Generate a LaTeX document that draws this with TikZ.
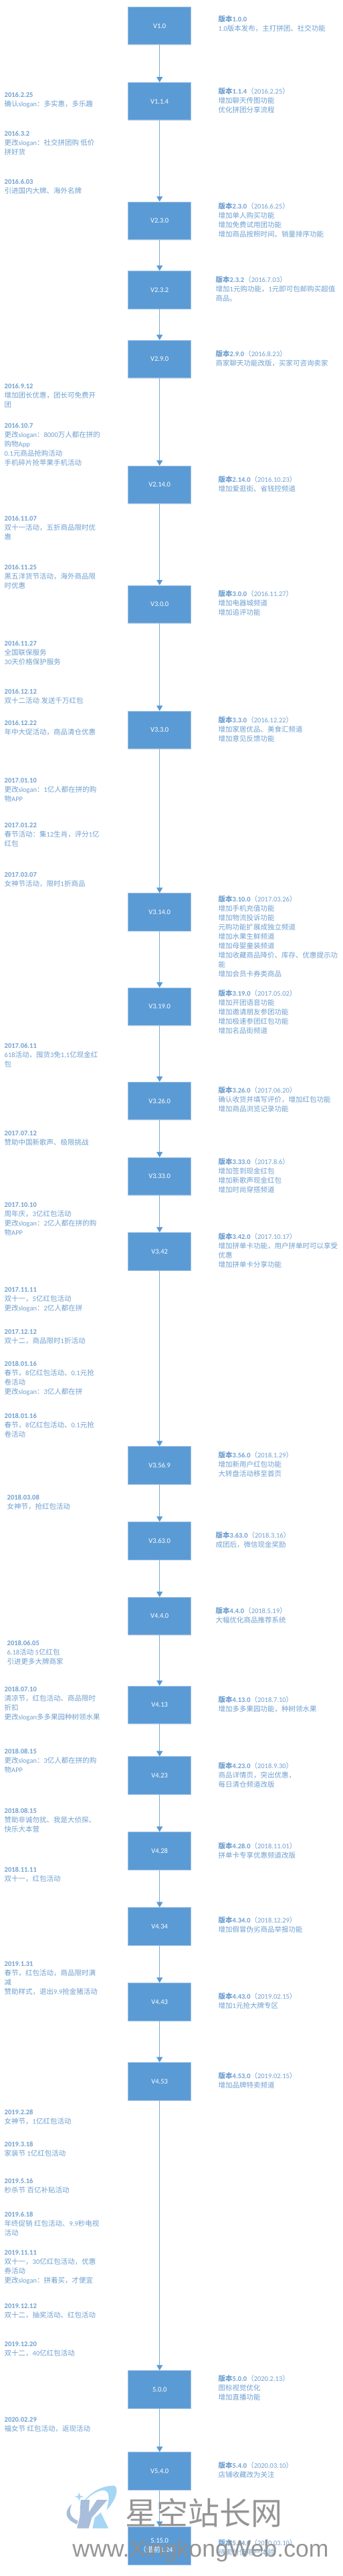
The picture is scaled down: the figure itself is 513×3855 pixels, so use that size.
\documentclass[tikz,border=0pt]{standalone}
\usepackage{fontspec}
\usepackage{xcolor}
\usetikzlibrary{arrows.meta,shadows}
\setmainfont{Carlito}
\newfontfamily\latinfont{Carlito}
\newfontfamily\cjkfont{Noto Sans CJK SC}
\newfontfamily\wmfont{Liberation Sans}
% Chinese characters go to the CJK family, the rest stays in Carlito
\newXeTeXintercharclass\cjkclass
\newcount\cjkcode
\def\setcjkrange#1#2{\cjkcode=#1 \loop\XeTeXcharclass\cjkcode=\cjkclass \ifnum\cjkcode<#2 \advance\cjkcode 1 \repeat}
\setcjkrange{"3000}{"30FF}
\setcjkrange{"4E00}{"9FFF}
\setcjkrange{"FF00}{"FFEF}
\XeTeXinterchartoks 0 \cjkclass={\cjkfont}
\XeTeXinterchartoks 4095 \cjkclass={\cjkfont}
\XeTeXinterchartoks \cjkclass 0={\latinfont}
\XeTeXinterchartoks \cjkclass 4095={\latinfont}
\XeTeXinterchartokenstate=1
\definecolor{boxblue}{HTML}{5B9BD5}
\definecolor{boxedge}{HTML}{9DC0E4}
\definecolor{linkblue}{HTML}{7FAAD9}
\definecolor{noteblue}{HTML}{6E9FD0}
\definecolor{wmgray}{HTML}{8F8F8F}
\definecolor{wmsky}{HTML}{A6D6F5}
\definecolor{wmslate}{HTML}{A8BEDA}

\begin{document}
\begin{tikzpicture}[x=1pt,y=-1pt,
  version/.style={rectangle, draw=boxedge, fill=boxblue, line width=.8pt, text=white, align=center, inner sep=0pt,
    minimum width=94pt, minimum height=56.3pt, font=\fontsize{10.5}{14}\selectfont,
    drop shadow={shadow xshift=0pt, shadow yshift=-1.2pt, opacity=.18}},
  note/.style={anchor=north west, inner sep=0pt, outer sep=0pt, align=left, yshift=6.3pt, text=noteblue,
    font=\fontsize{10.5}{14}\selectfont, execute at begin node=\strut},
  flow/.style={draw=linkblue, line width=1pt, -{Triangle[length=8pt,width=9pt,color=boxblue]}},
  wmark/.style={text=wmgray, inner sep=0pt, opacity=.95}]
\useasboundingbox (0,0) rectangle (513,3855);

% Version boxes
\node[version] (v100) at (238.7,38.7) {V1.0};
\node[version] (v114) at (238.7,151.7) {V1.1.4};
\node[version] (v230) at (238.7,330.3) {V2.3.0};
\node[version] (v232) at (238.7,433.8) {V2.3.2};
\node[version] (v290) at (238.7,537.5) {V2.9.0};
\node[version] (v2140) at (238.7,725.5) {V2.14.0};
\node[version] (v300) at (238.7,904.3) {V3.0.0};
\node[version] (v330) at (238.7,1092.5) {V3.3.0};
\node[version] (v3140) at (238.7,1365) {V3.14.0};
\node[version] (v3190) at (238.7,1506.5) {V3.19.0};
\node[version] (v3260) at (238.7,1647.5) {V3.26.0};
\node[version] (v3330) at (238.7,1760.5) {V3.33.0};
\node[version] (v342) at (238.7,1873) {V3.42};
\node[version] (v3569) at (238.7,2193) {V3.56.9};
\node[version] (v3630) at (238.7,2305.8) {V3.63.0};
\node[version] (v440) at (238.7,2418.5) {V4.4.0};
\node[version] (v413) at (238.7,2551.3) {V4.13};
\node[version] (v423) at (238.7,2657) {V4.23};
\node[version] (v428) at (238.7,2770) {V4.28};
\node[version] (v434) at (238.7,2883) {V4.34};
\node[version] (v443) at (238.7,2995.8) {V4.43};
\node[version] (v453) at (238.7,3114.8) {V4.53};
\node[version] (v500) at (238.7,3575.8) {5.0.0};
\node[version] (v540) at (238.7,3698) {V5.4.0};
\node[version] (v5150) at (238.7,3810) {5.15.0\\（借前1.24）};

% Timeline arrows
\draw[flow] (v100) -- (v114);
\draw[flow] (v114) -- (v230);
\draw[flow] (v230) -- (v232);
\draw[flow] (v232) -- (v290);
\draw[flow] (v290) -- (v2140);
\draw[flow] (v2140) -- (v300);
\draw[flow] (v300) -- (v330);
\draw[flow] (v330) -- (v3140);
\draw[flow] (v3140) -- (v3190);
\draw[flow] (v3190) -- (v3260);
\draw[flow] (v3260) -- (v3330);
\draw[flow] (v3330) -- (v342);
\draw[flow] (v342) -- (v3569);
\draw[flow] (v3569) -- (v3630);
\draw[flow] (v3630) -- (v440);
\draw[flow] (v440) -- (v413);
\draw[flow] (v413) -- (v423);
\draw[flow] (v423) -- (v428);
\draw[flow] (v428) -- (v434);
\draw[flow] (v434) -- (v443);
\draw[flow] (v443) -- (v453);
\draw[flow] (v453) -- (v500);
\draw[flow] (v500) -- (v540);
\draw[flow] (v540) -- (v5150);

% Release notes on the right
\node[note] (r100) at (326.7,30) {\textbf{版本1.0.0}\\1.0版本发布，主打拼团、社交功能};
\node[note] (r114) at (326.7,138.3) {\textbf{版本1.1.4}（2016.2.25）\\增加聊天传图功能\\优化拼团分享流程};
\node[note] (r230) at (326.7,310.3) {\textbf{版本2.3.0}（2016.6.25）\\增加单人购买功能\\增加免费试用团功能\\增加商品按照时间、销量排序功能};
\node[note] (r232) at (322.7,420.3) {\textbf{版本2.3.2}（2016.7.03）\\增加1元购功能，1元即可包邮购买超值\\商品。};
\node[note] (r290) at (322.7,531) {\textbf{版本2.9.0}（2016.8.23）\\商家聊天功能改版，买家可咨询卖家};
\node[note] (r2140) at (326.7,719.3) {\textbf{版本2.14.0}（2016.10.23）\\增加爱逛街、省钱控频道};
\node[note] (r300) at (326.7,889.3) {\textbf{版本3.0.0}（2016.11.27）\\增加电器城频道\\增加追评功能};
\node[note] (r330) at (326.7,1078.3) {\textbf{版本3.3.0}（2016.12.22）\\增加家居优品、美食汇频道\\增加意见反馈功能};
\node[note] (r3100) at (326.7,1346.3) {\textbf{版本3.10.0}（2017.03.26）\\增加手机充值功能\\增加物流投诉功能\\元购功能扩展成独立频道\\增加水果生鲜频道\\增加母婴童装频道\\增加收藏商品降价、库存、优惠提示功\\能\\增加会员卡券类商品};
\node[note] (r3190) at (326.7,1487.3) {\textbf{版本3.19.0}（2017.05.02）\\增加开团语音功能\\增加邀请朋友参团功能\\增加极速参团红包功能\\增加名品街频道};
\node[note] (r3260) at (326.7,1632.3) {\textbf{版本3.26.0}（2017.06.20）\\确认收货并填写评价，增加红包功能\\增加商品浏览记录功能};
\node[note] (r3330) at (326.7,1739.3) {\textbf{版本3.33.0}（2017.8.6）\\增加签到现金红包\\增加新歌声现金红包\\增加时尚穿搭频道};
\node[note] (r3420) at (326.7,1852) {\textbf{版本3.42.0}（2017.10.17）\\增加拼单卡功能，用户拼单时可以享受\\优惠\\增加拼单卡分享功能};
\node[note] (r3560) at (326.7,2178.3) {\textbf{版本3.56.0}（2018.1.29）\\增加新用户红包功能\\大转盘活动移至首页};
\node[note] (r3630) at (322.7,2298.3) {\textbf{版本3.63.0}（2018.3.16）\\成团后，微信现金奖励};
\node[note] (r440) at (322.7,2411.3) {\textbf{版本4.4.0}（2018.5.19）\\大幅优化商品推荐系统};
\node[note] (r4130) at (326.7,2544.3) {\textbf{版本4.13.0}（2018.7.10）\\增加多多果园功能，种树领水果};
\node[note] (r4230) at (326.7,2643.3) {\textbf{版本4.23.0}（2018.9.30）\\商品详情页，突出优惠，\\每日清仓频道改版};
\node[note] (r4280) at (326.7,2763.3) {\textbf{版本4.28.0}（2018.11.01）\\拼单卡专享优惠频道改版};
\node[note] (r4340) at (326.7,2875) {\textbf{版本4.34.0}（2018.12.29）\\增加假冒伪劣商品举报功能};
\node[note] (r4430) at (326.7,2988.3) {\textbf{版本4.43.0}（2019.02.15）\\增加1元抢大牌专区};
\node[note] (r4530) at (326.7,3107.3) {\textbf{版本4.53.0}（2019.02.15）\\增加品牌特卖频道};
\node[note] (r500) at (326.7,3561) {\textbf{版本5.0.0}（2020.2.13）\\图标视觉优化\\增加直播功能};
\node[note] (r540) at (326.7,3691) {\textbf{版本5.4.0}（2020.03.10）\\店铺收藏改为关注};
\node[note] (r5140) at (326.7,3807) {\textbf{版本5.14.0}（2020.03.10）\\待卖价值用户体验};

% Campaign notes on the left
\node[note] (d160225) at (6.7,144.3) {\textbf{2016.2.25}\\确认slogan：多实惠，多乐趣};
\node[note] (d160302) at (6.7,202.3) {\textbf{2016.3.2}\\更改slogan：社交拼团购 低价\\拼好货};
\node[note] (d160603) at (6.7,274.3) {\textbf{2016.6.03}\\引进国内大牌、海外名牌};
\node[note] (d160912) at (6.7,580.3) {\textbf{2016.9.12}\\增加团长优惠，团长可免费开\\团};
\node[note] (d161007) at (6.7,639.3) {\textbf{2016.10.7}\\更改slogan：8000万人都在拼的\\购物App\\0.1元商品抢购活动\\手机碎片抢苹果手机活动};
\node[note] (d161107) at (6.7,778.3) {\textbf{2016.11.07}\\双十一活动，五折商品限时优\\惠};
\node[note] (d161125) at (6.7,851.3) {\textbf{2016.11.25}\\黑五洋货节活动，海外商品限\\时优惠};
\node[note] (d161127) at (6.7,965.3) {\textbf{2016.11.27}\\全国联保服务\\30天价格保护服务};
\node[note] (d161212) at (6.7,1037.3) {\textbf{2016.12.12}\\双十二活动 发送千万红包};
\node[note] (d161222) at (6.7,1084.3) {\textbf{2016.12.22}\\年中大促活动，商品清仓优惠};
\node[note] (d170110) at (6.7,1171.3) {\textbf{2017.01.10}\\更改slogan：1亿人都在拼的购\\物APP};
\node[note] (d170122) at (6.7,1238.3) {\textbf{2017.01.22}\\春节活动：集12生肖，评分1亿\\红包};
\node[note] (d170307) at (6.7,1312.3) {\textbf{2017.03.07}\\女神节活动，限时1折商品};
\node[note] (d170611) at (6.7,1567.3) {\textbf{2017.06.11}\\618活动，囤货3免1,1亿现金红\\包};
\node[note] (d170712) at (6.7,1699.3) {\textbf{2017.07.12}\\赞助中国新歌声、极限挑战};
\node[note] (d171010) at (6.7,1806.3) {\textbf{2017.10.10}\\周年庆，3亿红包活动\\更改slogan：2亿人都在拼的购\\物APP};
\node[note] (d171111) at (6.7,1933.3) {\textbf{2017.11.11}\\双十一，5亿红包活动\\更改slogan：2亿人都在拼};
\node[note] (d171212) at (6.7,1996.3) {\textbf{2017.12.12}\\双十二，商品限时1折活动};
\node[note] (d180116) at (6.7,2043.3) {\textbf{2018.01.16}\\春节，8亿红包活动、0.1元抢\\卷活动\\更改slogan：3亿人都在拼};
\node[note] (d180116b) at (6.7,2121.3) {\textbf{2018.01.16}\\春节，8亿红包活动、0.1元抢\\卷活动};
\node[note] (d180308) at (10.7,2243.3) {\textbf{2018.03.08}\\女神节，抢红包活动};
\node[note] (d180605) at (10.7,2461.3) {\textbf{2018.06.05}\\6.18活动 5亿红包\\引进更多大牌商家};
\node[note] (d180710) at (6.7,2530.3) {\textbf{2018.07.10}\\清凉节，红包活动、商品限时\\折扣\\更改slogan多多果园种树领水果};
\node[note] (d180815) at (6.7,2623.3) {\textbf{2018.08.15}\\更改slogan：3亿人都在拼的购\\物APP};
\node[note] (d180815b) at (6.7,2712.3) {\textbf{2018.08.15}\\赞助非诚勿扰、我是大侦探、\\快乐大本营};
\node[note] (d181111) at (6.7,2800.3) {\textbf{2018.11.11}\\双十一，红包活动};
\node[note] (d190131) at (6.7,2942.3) {\textbf{2019.1.31}\\春节，红包活动，商品限时满\\减\\赞助样式，退出9.9抢金猪活动};
\node[note] (d190228) at (6.7,3163.3) {\textbf{2019.2.28}\\女神节，1亿红包活动};
\node[note] (d190318) at (6.7,3211.3) {\textbf{2019.3.18}\\家装节 1亿红包活动};
\node[note] (d190516) at (6.7,3266.3) {\textbf{2019.5.16}\\秒杀节 百亿补贴活动};
\node[note] (d190618) at (6.7,3316.3) {\textbf{2019.6.18}\\年终促销 红包活动、9.9秒电视\\活动};
\node[note] (d191111) at (6.7,3374.3) {\textbf{2019.11.11}\\双十一，30亿红包活动，优惠\\券活动\\更改slogan：拼着买，才便宜};
\node[note] (d191212) at (6.7,3454.3) {\textbf{2019.12.12}\\双十二，抽奖活动、红包活动};
\node[note] (d191220) at (6.7,3511.3) {\textbf{2019.12.20}\\双十二，40亿红包活动};
\node[note] (d200229) at (6.7,3624.3) {\textbf{2020.02.29}\\福女节 红包活动，返现活动};

% Watermark logo and texts
\begin{scope}[shift={(0,3525)},x=.3333pt,y=-.3333pt]
\fill[wmsky] (355,690) .. controls (385,620) and (460,580) .. (515,585) .. controls (535,600) and (520,650) .. (478,695) .. controls (495,630) and (490,605) .. (460,605) .. controls (425,610) and (385,640) .. (355,690) -- cycle;
\fill[wmsky] (425,728) -- (452,705) -- (487,776) -- (415,776) -- cycle;
\fill[wmslate] (362,648) -- (402,648) -- (398,705) -- (435,648) -- (482,648) -- (412,728) -- (398,776) -- (345,776) -- (358,725) -- cycle;
\fill[wmslate] (322,668) .. controls (285,700) and (290,735) .. (345,758) -- (350,742) .. controls (318,730) and (305,705) .. (322,668) -- cycle;
\fill[wmsky] (355,615) -- (360,630) -- (375,634) -- (360,638) -- (355,653) -- (350,638) -- (335,634) -- (350,630) -- cycle;
\end{scope}
\node[wmark, font=\fontsize{47}{47}\selectfont] (wmtitle) at (305,3760) {星空站长网};
\node[wmark, font=\wmfont\fontsize{35.6}{36}\selectfont] (wmurl) at (300,3817) {www.XingkongWeb.com};

\end{tikzpicture}
\end{document}
